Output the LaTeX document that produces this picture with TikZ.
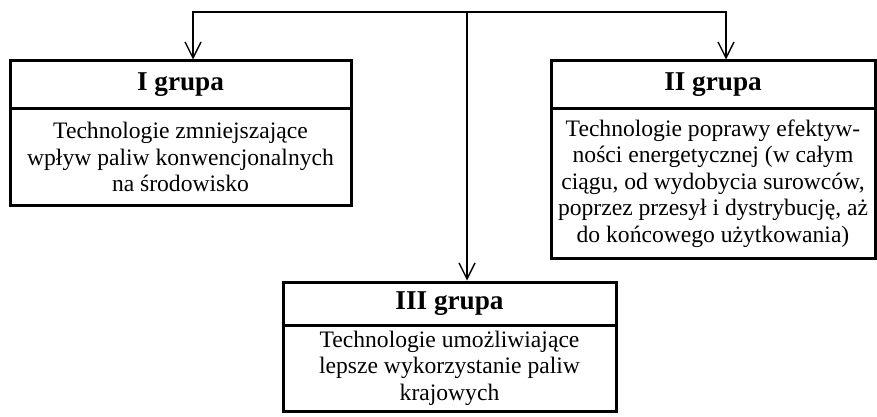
\documentclass[tikz,border=0pt]{standalone}
\usepackage{fontspec}
\setmainfont{Liberation Serif}
\usetikzlibrary{arrows.meta,calc}
\begin{document}
\begin{tikzpicture}[x=0.5pt,y=-0.5pt,
  >={Straight Barb[length=8pt,width=8pt]},
  grouphead/.style={draw,line width=1.5pt,inner sep=0pt,
    font=\fontsize{13.6}{16}\selectfont\bfseries},
  groupbody/.style={draw,line width=1.5pt,inner sep=0pt,align=center,
    font=\fontsize{11.8}{13.3}\selectfont}]
  \useasboundingbox (0,0) rectangle (877,417);
  % group I
  \node[grouphead,minimum width=170.5pt,minimum height=24pt] (g1h) at (180.5,85) {I grupa};
  \node[groupbody,minimum width=170.5pt,minimum height=48pt] (g1b) at (180.5,157)
    {Technologie zmniejszające\\wpływ paliw konwencjonalnych\\na środowisko};
  % group II
  \node[grouphead,minimum width=162pt,minimum height=24pt] (g2h) at (713,85) {II grupa};
  \node[groupbody,minimum width=162pt,minimum height=74.5pt] (g2b) at (713,183.5)
    {Technologie poprawy efektyw-\\ności energetycznej (w całym\\ciągu, od wydobycia surowców,\\poprzez przesył i dystrybucję, aż\\do końcowego użytkowania)};
  % group III
  \node[grouphead,minimum width=166.5pt,minimum height=21.5pt] (g3h) at (449.5,303.5) {III grupa};
  \node[groupbody,minimum width=166.5pt,minimum height=43pt] (g3b) at (449.5,368)
    {Technologie umożliwiające\\lepsze wykorzystanie paliw\\krajowych};
  % arrow ends on the box tops
  \coordinate (t1) at ($(g1h.north)+(12.5,0)$);
  \coordinate (t2) at ($(g2h.north)+(13,0)$);
  \coordinate (t3) at ($(g3h.north)+(17.5,0)$);
  \coordinate (hub) at (t3 |- 0,12);
  % connectors
  \draw[->,line width=0.7pt] (hub) -| (t1);
  \draw[->,line width=0.7pt] (hub) -| (t2);
  \draw[->,line width=0.7pt] (hub) -- (t3);
\end{tikzpicture}
\end{document}
